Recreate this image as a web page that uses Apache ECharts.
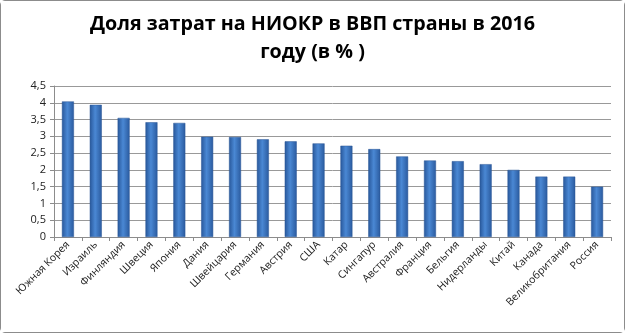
<!DOCTYPE html>
<html>
<head>
<meta charset="utf-8">
<script src="https://cdn.jsdelivr.net/npm/echarts@6/dist/echarts.min.js"></script>
<style>
	html,body{margin:0;padding:0;background:#fff;}
	#box{position:absolute;left:0;top:0;width:623px;height:331px;border:1px solid #8c8c8c;border-radius:5px;}
	#chart{width:623px;height:331px;}
</style>
</head>
<body>
<div id="box"><div id="chart"></div></div>
<script>
//страны
var countries=['Южная Корея','Израиль','Финляндия','Швеция','Япония','Дания','Швейцария','Германия','Австрия','США',
	'Катар','Сингапур','Австралия','Франция','Бельгия','Нидерланды','Китай','Канада','Великобритания','Россия'];
//доля затрат на НИОКР, %
var shares=[4.04,3.94,3.55,3.42,3.4,2.99,2.98,2.91,2.85,2.79,
	2.72,2.62,2.4,2.28,2.26,2.17,2.0,1.8,1.8,1.5];
var titleText='Доля затрат на НИОКР в ВВП страны в 2016\nгоду (в % )';

var chart=echarts.init(document.getElementById('chart'));
var options={
	backgroundColor:'#ffffff',
	animation:false,
	title:{
		text:titleText,
		left:'center',
		top:4,
		textStyle:{
			fontFamily:'Open Sans',
			fontWeight:'bold',
			fontSize:19.7,
			lineHeight:28,
			color:'#000'
		}
	},
	grid:{left:53,right:13,top:85,bottom:95,containLabel:false},
	xAxis:{
		type:'category',
		data:countries,
		axisLine:{lineStyle:{color:'#8c8c8c'}},
		axisTick:{show:true,alignWithLabel:false,length:4,lineStyle:{color:'#8c8c8c'}},
		axisLabel:{
			interval:0,
			rotate:45,
			fontFamily:'Open Sans',
			fontSize:10.5,
			color:'#222',
			margin:6
		}
	},
	yAxis:{
		type:'value',
		min:0,
		max:4.5,
		interval:0.5,
		axisLine:{show:true,lineStyle:{color:'#8c8c8c'}},
		axisTick:{show:true,length:4,lineStyle:{color:'#8c8c8c'}},
		splitLine:{lineStyle:{color:'#999',width:1}},
		axisLabel:{
			fontFamily:'Open Sans',
			fontSize:11,
			color:'#222',
			margin:8,
			formatter:function(v){return String(v).replace('.',',');}
		}
	},
	series:[{
		type:'bar',
		data:shares,
		barWidth:12,
		itemStyle:{
			color:new echarts.graphic.LinearGradient(0,0,1,0,[
				{offset:0,color:'#28579a'},
				{offset:0.45,color:'#4a88d4'},
				{offset:1,color:'#2a5a9e'}
			]),
			borderColor:'#2a5696',
			borderWidth:0.5
		}
	}]
};
chart.setOption(options);
</script>
</body>
</html>
